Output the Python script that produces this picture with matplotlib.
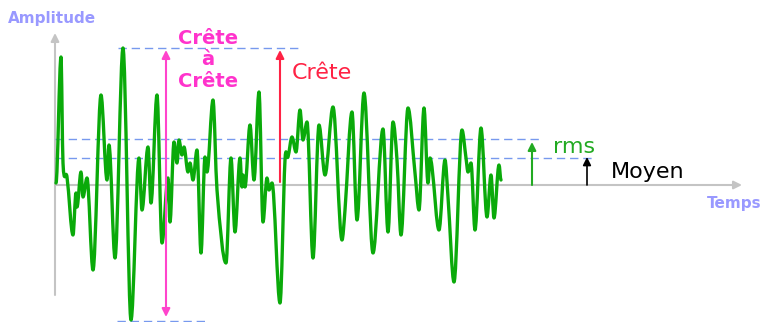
import numpy as np
import matplotlib
matplotlib.use("Agg")
import matplotlib.pyplot as plt
from matplotlib.path import Path
from matplotlib.patches import PathPatch

# Waveform extrema (time, amplitude), axis origin at 0
t = [1, 6, 8, 12, 18, 21, 22, 26, 28, 32, 38, 46, 52, 54, 60, 68, 76, 84, 87, 93,
     96, 102, 107, 113, 115, 119, 122, 124, 127, 129, 133, 135, 138, 142, 146, 150,
     152, 158, 162, 171, 176, 180, 185, 187, 188, 190, 195, 199, 204, 208, 212, 214,
     217, 225, 230, 233, 237, 241, 245, 248, 252, 258, 264, 270, 278, 287, 290, 297,
     302, 309, 318, 328, 333, 338, 342, 346, 353, 360, 364, 369, 373, 375, 377, 384,
     390, 393, 399, 407, 411, 413, 416, 420, 426, 432, 436, 439, 444, 446]
amp = [2, 128, 22, 8, -50, -8, -22, 13, -12, 7, -85, 90, 5, 40, -73, 137, -135, 27, -25, 38,
       -18, 90, -58, 7, -37, 43, 22, 45, 30, 38, 13, 22, 5, 35, -68, 28,
       13, 85, -5, -78, 27, -47, 27, -2, 10, -2, 60, 5, 93, -37, 7, -5,
       2, -118, 25, 28, 48, 33, 75, 45, 63, -73, 60, 10, 78, -55, -25, 73,
       -35, 92, -68, 56, -47, 63, 25, -50, 77, 12, -25, 77, 2, 27, 18, -45,
       25, -12, -97, 55, 27, 13, 22, -45, 57, -32, 10, -33, 20, 5]

# Reference levels
crete_haute = 137
crete_basse = -136
niveau_rms = 46
niveau_moyen = 27

fig = plt.figure(figsize=(7.64, 3.22), dpi=100)
ax = fig.add_axes([0, 0, 1, 1])
ax.set_xlim(-55, 709)
ax.set_ylim(-137, 185)
ax.axis('off')

# smooth curve through the extrema (cubic Hermite drawn as Bezier path)
x = np.array(t, float)
y = np.array(amp, float)
m = np.zeros_like(y)
for i in range(1, len(x) - 1):
    d1 = y[i] - y[i - 1]
    d2 = y[i + 1] - y[i]
    if d1 * d2 > 0:
        m[i] = (y[i + 1] - y[i - 1]) / (x[i + 1] - x[i - 1])
verts = [(x[0], y[0])]
codes = [Path.MOVETO]
for i in range(len(x) - 1):
    dx = (x[i + 1] - x[i]) / 3
    verts += [(x[i] + dx, y[i] + m[i] * dx),
              (x[i + 1] - dx, y[i + 1] - m[i + 1] * dx),
              (x[i + 1], y[i + 1])]
    codes += [Path.CURVE4] * 3
ax.add_patch(PathPatch(Path(verts, codes), fill=False, ec='#0aaa0a', lw=2.4,
                       capstyle='round', joinstyle='round', zorder=3))

# axes with arrows
grey = '#c4c4c4'
ax.annotate('', xy=(0, 152), xytext=(0, -110),
            arrowprops=dict(arrowstyle='-|>', color=grey, lw=1.5, mutation_scale=12,
                            shrinkA=0, shrinkB=0), zorder=1)
ax.annotate('', xy=(687, 0), xytext=(0, 0),
            arrowprops=dict(arrowstyle='-|>', color=grey, lw=1.5, mutation_scale=12,
                            shrinkA=0, shrinkB=0), zorder=1)

# dashed level lines
dash = dict(color='#7799ee', lw=1, linestyles=(0, (6, 3.5)), zorder=2)
ax.hlines(crete_haute, 63, 247, **dash)
ax.hlines(crete_basse, 62, 153, **dash)
ax.hlines(niveau_rms, 0, 485, **dash)
ax.hlines(niveau_moyen, 0, 538, **dash)

def fleche(x0, y0, y1, color, style='-|>', lw=1.5):
    ax.annotate('', xy=(x0, y1), xytext=(x0, y0),
                arrowprops=dict(arrowstyle=style, color=color, lw=lw, mutation_scale=12,
                                shrinkA=0, shrinkB=0), zorder=4)

fleche(111, crete_basse + 4, crete_haute - 2, '#ff44cc', style='<|-|>')
fleche(225, 3, crete_haute - 2, '#ff2244')
fleche(477, 0, niveau_rms - 3, '#22aa22')
fleche(532, 0, niveau_moyen + 1, 'black', lw=1.2)

# labels
ax.text(-47, 162, 'Amplitude', color='#9999ff', fontsize=11, fontweight='bold',
        ha='left', va='baseline')
ax.text(652, -23, 'Temps', color='#9999ff', fontsize=11, fontweight='bold',
        ha='left', va='baseline')
for txt, yy in [('Crête', 141), ('à', 120), ('Crête', 98)]:
    ax.text(153, yy, txt, color='#ff33cc', fontsize=14, fontweight='bold',
            ha='center', va='baseline')
ax.text(237, 106, 'Crête', color='#ff2244', fontsize=16, ha='left', va='baseline')
ax.text(498, 32, 'rms', color='#22aa22', fontsize=16, ha='left', va='baseline')
ax.text(556, 7, 'Moyen', color='black', fontsize=16, ha='left', va='baseline')

fig.savefig('out.png', dpi=100)
